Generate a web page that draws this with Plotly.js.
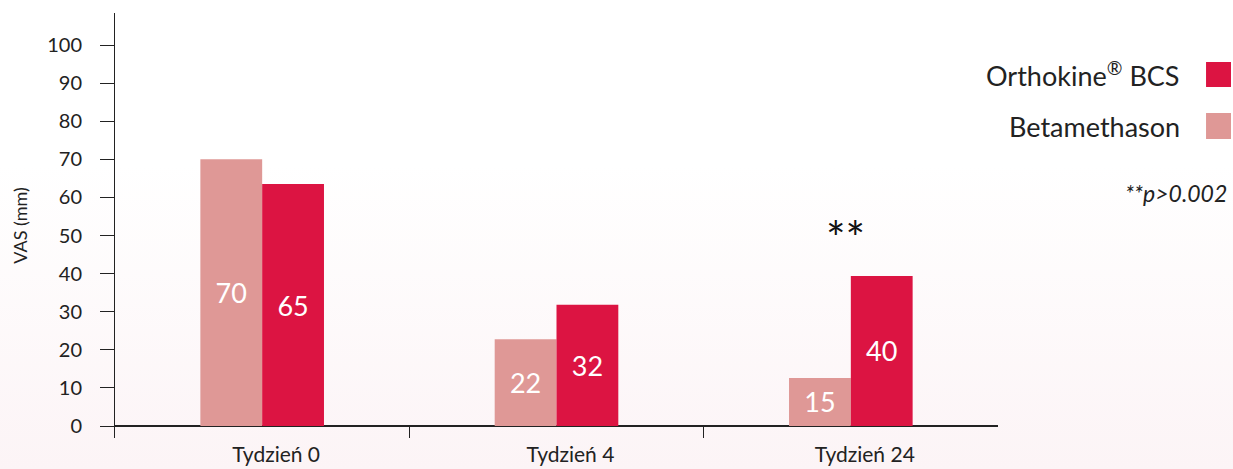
<!DOCTYPE html>
<html>
<head>
<meta charset="utf-8">
<script src="https://cdn.plot.ly/plotly-3.0.1.min.js"></script>
<style>
  html, body { margin: 0; padding: 0; }
  body { width: 1233px; height: 469px; background: linear-gradient(to bottom, #ffffff 0%, #ffffff 35%, #fcf4f6 100%); }
  #chart { width: 1233px; height: 469px; }
</style>
</head>
<body>
<div id="chart"></div>
<script>
const categories = ['Tydzień 0', 'Tydzień 4', 'Tydzień 24'];
const betaName = 'Betamethason';
const orthoName = 'Orthokine® BCS';
const orthoLegendText = 'Orthokine<sup>®</sup> BCS';
const betaValues = [70, 22.8, 12.6];
const orthoValues = [63.5, 31.8, 39.4];
const betaLabels = ['70', '22', '15'];
const orthoLabels = ['65', '32', '40'];
const yTicks = [0, 10, 20, 30, 40, 50, 60, 70, 80, 90, 100];
const pNote = '**p>0.002';
const sigMark = '**';

const betaColor = '#df9896';
const orthoColor = '#dc1442';
const font = 'Lato, "Open Sans", sans-serif';

const traces = [
  {
    type: 'bar', name: betaName, x: categories, y: betaValues,
    text: betaLabels, textposition: 'inside', insidetextanchor: 'middle',
    textfont: { color: '#ffffff', size: 27, family: font },
    marker: { color: betaColor }, showlegend: false, hoverinfo: 'skip'
  },
  {
    type: 'bar', name: orthoName, x: categories, y: orthoValues,
    text: orthoLabels, textposition: 'inside', insidetextanchor: 'middle',
    textfont: { color: '#ffffff', size: 27, family: font },
    marker: { color: orthoColor }, showlegend: false, hoverinfo: 'skip'
  }
];

const layout = {
  width: 1233, height: 469,
  margin: { l: 115, r: 235, t: 13, b: 31 },
  paper_bgcolor: 'rgba(0,0,0,0)',
  plot_bgcolor: 'rgba(0,0,0,0)',
  barmode: 'group', bargap: 0.58, bargroupgap: 0,
  font: { family: font, color: '#222222' },
  xaxis: {
    type: 'category', range: [-0.5, 2.5],
    tickson: 'boundaries', ticks: 'inside', ticklen: 12, tickwidth: 1, tickcolor: '#222',
    showline: false, showgrid: false, zeroline: false,
    tickfont: { size: 21, color: '#222' }, ticklabelshift: 14, ticklabelstandoff: 2
  },
  yaxis: {
    range: [-3.15, 108.4], tickvals: yTicks,
    ticks: 'outside', ticklen: 14, tickwidth: 1, tickcolor: '#222',
    showline: true, linecolor: '#222', linewidth: 1,
    showgrid: false, zeroline: true, zerolinecolor: '#222', zerolinewidth: 1.2,
    tickfont: { size: 20, color: '#222' }, ticklabelstandoff: 14,
    title: { text: 'VAS (mm)', font: { size: 18, color: '#222' }, standoff: 14 }
  },
  annotations: [
    { xref: 'x', yref: 'y', x: categories[2], y: 49.5, text: sigMark, showarrow: false,
      xshift: -5, font: { size: 46, color: '#111' } },
    { xref: 'paper', yref: 'paper', x: 1.2084, y: 0.8565, xanchor: 'right', yanchor: 'middle',
      text: orthoLegendText, showarrow: false, font: { size: 27, color: '#222' } },
    { xref: 'paper', yref: 'paper', x: 1.2084, y: 0.7318, xanchor: 'right', yanchor: 'middle',
      text: betaName, showarrow: false, font: { size: 27, color: '#222' } },
    { xref: 'paper', yref: 'paper', x: 1.262, y: 0.5765, xanchor: 'right', yanchor: 'middle',
      text: '<i>' + pNote + '</i>', showarrow: false, font: { size: 23, color: '#222' } }
  ],
  shapes: [
    { type: 'rect', xref: 'paper', yref: 'paper', x0: 1.2356, x1: 1.2639, y0: 0.8259, y1: 0.8847,
      fillcolor: orthoColor, line: { width: 0 } },
    { type: 'rect', xref: 'paper', yref: 'paper', x0: 1.2356, x1: 1.2639, y0: 0.7035, y1: 0.7647,
      fillcolor: betaColor, line: { width: 0 } }
  ]
};

Plotly.newPlot('chart', traces, layout, { displayModeBar: false, staticPlot: true });
</script>
</body>
</html>
